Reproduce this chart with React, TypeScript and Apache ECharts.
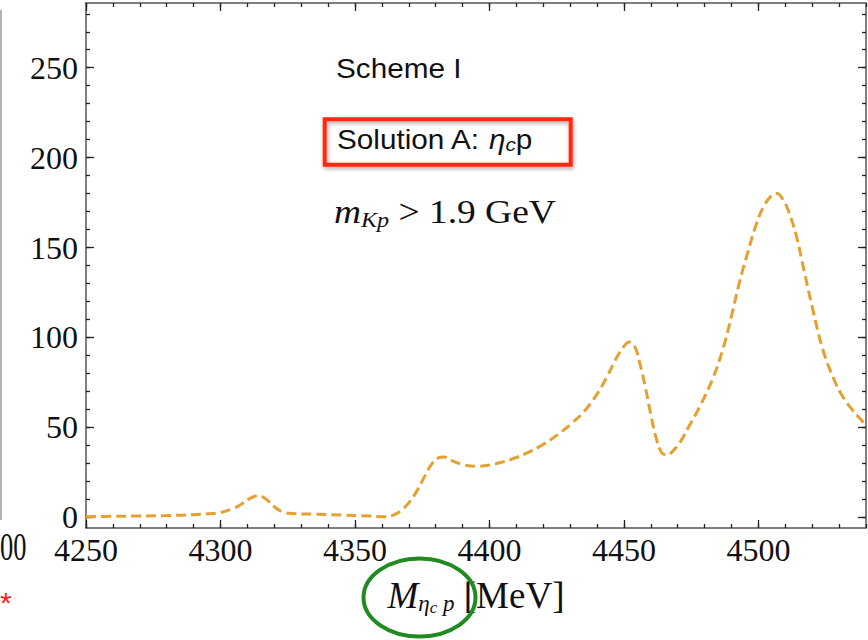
import React, { useEffect, useRef } from 'react';
import * as echarts from 'echarts';

// Invariant mass (MeV) and event distribution
const massMeV = [4250, 4260, 4270, 4280, 4290, 4295, 4300, 4305, 4308, 4311, 4314, 4317, 4320, 4323, 4327, 4335, 4345, 4355, 4361, 4364, 4367, 4370, 4373, 4376, 4378.5, 4381, 4383, 4386, 4390, 4395, 4400, 4405, 4410, 4415, 4420, 4425, 4430, 4435, 4440, 4444, 4447, 4450, 4452, 4454, 4456, 4458, 4460, 4462, 4464, 4466, 4468, 4471, 4474, 4478, 4483, 4487, 4490, 4493, 4496, 4499, 4502, 4505, 4507, 4509, 4511, 4514, 4517, 4520, 4524, 4528, 4531, 4535, 4538, 4540];
const distribution = [0.3, 0.5, 0.7, 0.9, 1.4, 1.9, 2.6, 5, 7.5, 10.5, 12, 10, 5.8, 3, 2, 1.7, 1.2, 0.7, 0.3, 1, 3.5, 8, 14.5, 23, 29.5, 33, 33.5, 31.5, 29.3, 28.3, 29, 30.8, 33.2, 36.5, 40.5, 45.5, 51.5, 58.5, 68.5, 79, 88, 95, 97.4, 95, 85, 72, 57, 44, 36, 34.5, 36.5, 42, 50, 61, 77, 94.5, 112, 131, 147, 162, 173, 179, 180, 177, 171, 157, 137, 117, 93, 77, 68, 59.5, 54.5, 51];

const xRange = [4250, 4540];
const yRange = [-6, 286];
const xMajorTicks = [4250, 4300, 4350, 4400, 4450, 4500];
const xMinorTicks = [4250, 4260, 4270, 4280, 4290, 4300, 4310, 4320, 4330, 4340, 4350, 4360, 4370, 4380, 4390, 4400, 4410, 4420, 4430, 4440, 4450, 4460, 4470, 4480, 4490, 4500, 4510, 4520, 4530, 4540];
const yMajorTicks = [0, 50, 100, 150, 200, 250];
const yMinorTicks = [0, 10, 20, 30, 40, 50, 60, 70, 80, 90, 100, 110, 120, 130, 140, 150, 160, 170, 180, 190, 200, 210, 220, 230, 240, 250, 260, 270, 280];

const SERIF = '"Liberation Serif", "Times New Roman", serif';
const SANS = '"Liberation Sans", Arial, sans-serif';

export default function App() {
  const ref = useRef<HTMLDivElement>(null);

  useEffect(() => {
    const chart = echarts.init(ref.current as HTMLDivElement, null, { renderer: 'svg' });
    const gridRect = { left: 86, right: 2, top: 3, bottom: 112 };
    const axisLineStyle = { color: '#555', width: 1.5 };
    const tickStyle = { color: '#222', width: 1.3 };
    const labelStyle = { fontFamily: SERIF, fontSize: 32, color: '#111', formatter: (v: number) => String(v) };

    const xAxisDef = (gridIndex: number, position: string, ticks: number[], len: number, showLine: boolean, showLabel: boolean, extra: any = {}) => ({
      type: 'value', gridIndex, position, min: xRange[0], max: xRange[1],
      splitLine: { show: false },
      axisLine: { show: showLine, onZero: false, lineStyle: axisLineStyle },
      axisTick: { show: true, inside: true, length: len, customValues: ticks, lineStyle: tickStyle },
      axisLabel: { show: showLabel, customValues: ticks, margin: 6, ...labelStyle },
      ...extra,
    });
    const yAxisDef = (gridIndex: number, position: string, ticks: number[], len: number, showLine: boolean, showLabel: boolean) => ({
      type: 'value', gridIndex, position, min: yRange[0], max: yRange[1],
      splitLine: { show: false },
      axisLine: { show: showLine, onZero: false, lineStyle: axisLineStyle },
      axisTick: { show: true, inside: true, length: len, customValues: ticks, lineStyle: tickStyle },
      axisLabel: { show: showLabel, customValues: ticks, margin: 8, ...labelStyle },
    });

    chart.setOption({
      animation: false,
      backgroundColor: '#fff',
      grid: [{ ...gridRect }, { ...gridRect }],
      xAxis: [
        xAxisDef(0, 'bottom', xMajorTicks, 8, true, true, {
          name: '{m|M}{s|η}{c|c}{s| p}{u| [MeV]}',
          nameLocation: 'middle',
          nameGap: 47,
          nameTextStyle: {
            rich: {
              m: { fontFamily: SERIF, fontStyle: 'italic', fontSize: 37, color: '#111' },
              s: { fontFamily: SERIF, fontStyle: 'italic', fontSize: 23, color: '#111', padding: [16, 0, 0, 0] },
              c: { fontFamily: SERIF, fontStyle: 'italic', fontSize: 17, color: '#111', padding: [24, 0, 0, 0] },
              u: { fontFamily: SERIF, fontSize: 37, color: '#111' },
            },
          },
        }),
        xAxisDef(0, 'top', xMajorTicks, 8, true, false),
        xAxisDef(1, 'bottom', xMinorTicks, 4, false, false),
        xAxisDef(1, 'top', xMinorTicks, 4, false, false),
      ],
      yAxis: [
        yAxisDef(0, 'left', yMajorTicks, 8, true, true),
        yAxisDef(0, 'right', yMajorTicks, 8, true, false),
        yAxisDef(1, 'left', yMinorTicks, 4, false, false),
        yAxisDef(1, 'right', yMinorTicks, 4, false, false),
      ],
      series: [
        {
          type: 'line',
          xAxisIndex: 0,
          yAxisIndex: 0,
          data: massMeV.map((m, i) => [m, distribution[i]]),
          smooth: 0.4,
          showSymbol: false,
          clip: true,
          lineStyle: { color: '#e6a030', width: 3, type: [10, 5] },
        },
      ],
      graphic: [
        { type: 'line', z: 100, shape: { x1: 1, y1: 10, x2: 1, y2: 520 }, style: { stroke: '#999', lineWidth: 1.5 } },
        { type: 'text', z: 100, x: 0, y: 546, scaleX: 0.66, style: { text: '00', fontFamily: SERIF, fontSize: 40, fill: '#111', align: 'left', verticalAlign: 'middle' } },
        { type: 'text', z: 100, x: 0, y: 602, style: { text: '*', fontFamily: SANS, fontSize: 30, fill: '#f22', align: 'left', verticalAlign: 'middle' } },
        { type: 'text', z: 100, x: 336, y: 68, scaleX: 1.1, style: { text: 'Scheme I', fontFamily: SANS, fontSize: 27, fill: '#111', align: 'left', verticalAlign: 'middle' } },
        {
          type: 'rect', z: 100,
          shape: { x: 324.7, y: 119.3, width: 246, height: 45.4 },
          style: { fill: 'none', stroke: '#ff2a0e', lineWidth: 4, shadowBlur: 4, shadowColor: 'rgba(0,0,0,0.35)', shadowOffsetX: 1, shadowOffsetY: 2 },
        },
        {
          type: 'text', z: 101, x: 337, y: 139, scaleX: 1.1,
          style: {
            text: '{a|Solution A: }{e|η}{c|c}{a|p}',
            align: 'left', verticalAlign: 'middle',
            rich: {
              a: { fontFamily: SANS, fontSize: 27, fill: '#111' },
              e: { fontFamily: SANS, fontStyle: 'italic', fontSize: 27, fill: '#111' },
              c: { fontFamily: SANS, fontStyle: 'italic', fontSize: 19, fill: '#111', padding: [10, 0, 0, 0] },
            },
          },
        },
        {
          type: 'text', z: 100, x: 334, y: 212, scaleX: 1.1,
          style: {
            text: '{m|m}{s|Kp}{a| > 1.9 GeV}',
            align: 'left', verticalAlign: 'middle',
            rich: {
              m: { fontFamily: SERIF, fontStyle: 'italic', fontSize: 34, fill: '#111' },
              s: { fontFamily: SERIF, fontStyle: 'italic', fontSize: 22, fill: '#111', padding: [14, 0, 0, 0] },
              a: { fontFamily: SERIF, fontSize: 34, fill: '#111' },
            },
          },
        },
        {
          type: 'ellipse', z: 110,
          shape: { cx: 419.5, cy: 597.5, rx: 56, ry: 39 },
          style: { fill: 'none', stroke: '#218a21', lineWidth: 4 },
        },
      ],
    });

    return () => chart.dispose();
  }, []);

  return <div ref={ref} style={{ position: 'absolute', left: 0, top: 0, width: 868, height: 640 }} />;
}
